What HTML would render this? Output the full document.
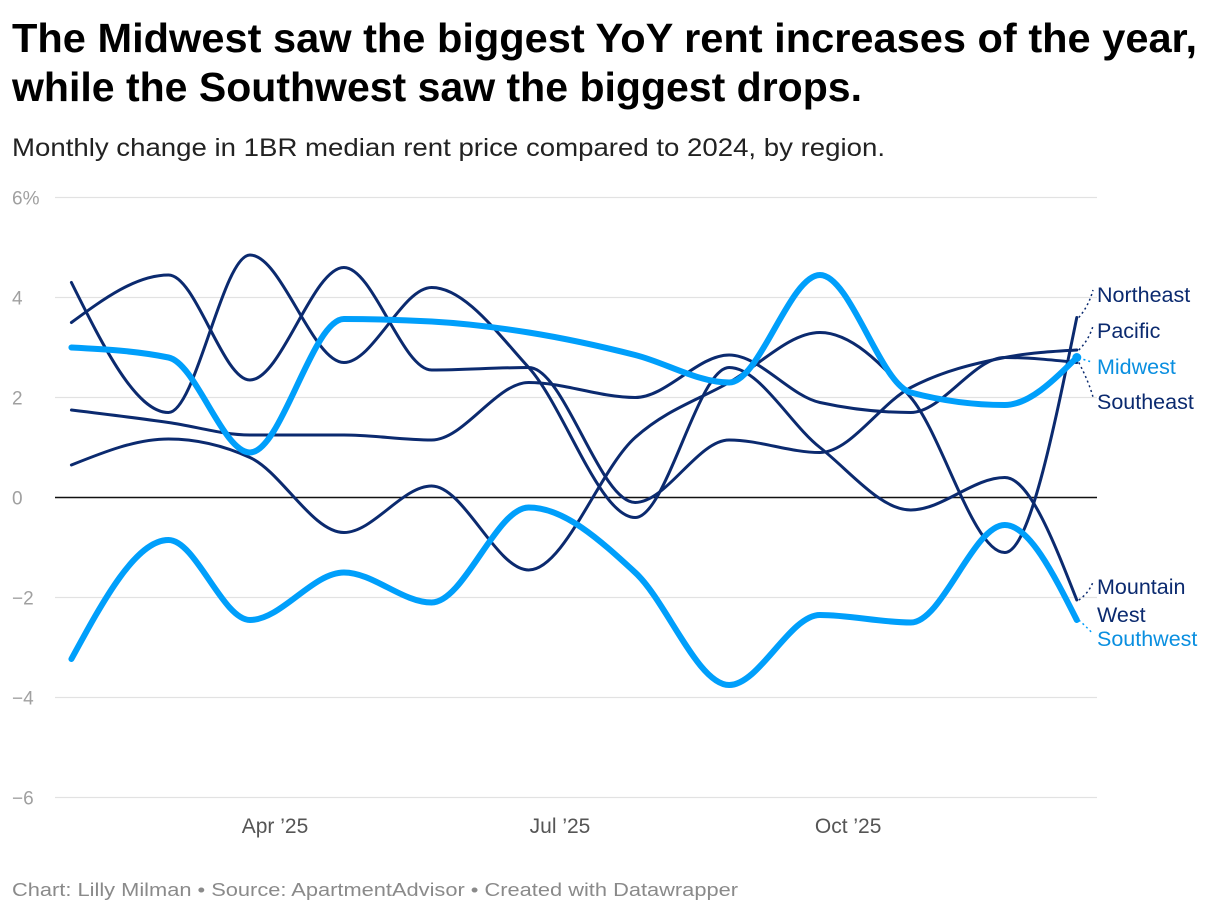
<!DOCTYPE html>
<html><head><meta charset="utf-8"><style>
html,body{margin:0;padding:0;background:#fff;}
svg{display:block;font-family:"Liberation Sans",sans-serif;}
</style></head><body>
<svg id="chart" width="1220" height="914" viewBox="0 0 1220 914" xmlns="http://www.w3.org/2000/svg">
<text x="12" y="52" font-size="41" font-weight="bold" fill="#000" textLength="1185" lengthAdjust="spacingAndGlyphs">The Midwest saw the biggest YoY rent increases of the year,</text>
<text x="12" y="101" font-size="41" font-weight="bold" fill="#000" textLength="850" lengthAdjust="spacingAndGlyphs">while the Southwest saw the biggest drops.</text>
<text x="12" y="156" font-size="25" fill="#222" textLength="873" lengthAdjust="spacingAndGlyphs">Monthly change in 1BR median rent price compared to 2024, by region.</text>
<g id="grid"></g><g id="lines"></g><g id="labels"></g>
<text x="12" y="896" font-size="18" fill="#8a8a8a" textLength="726" lengthAdjust="spacingAndGlyphs">Chart: Lilly Milman • Source: ApartmentAdvisor • Created with Datawrapper</text>
</svg>
<script>
const days = [26,57,83,113,141,172,206,236,265,294,324,347];
const yTicks = [6,4,2,0,-2,-4,-6];
const xTickDays = [91,182,274];
const xTickLabels = ["Apr \u201925","Jul \u201925","Oct \u201925"];
const seriesNames = ["Northeast","Pacific","Midwest","Southeast","Mountain West","Southwest"];
const northeast = [0.65,1.17,0.8,-0.7,0.23,-1.45,1.2,2.3,3.3,2.0,-1.1,3.6];
const pacific = [3.5,4.45,2.35,4.6,2.55,2.6,-0.1,1.15,0.9,2.2,2.8,2.95];
const midwest = [3.0,2.8,0.9,3.57,3.52,3.3,2.85,2.3,4.45,2.1,1.85,2.8];
const southeast = [1.75,1.5,1.25,1.25,1.15,2.3,2.0,2.85,1.9,1.7,2.8,2.7];
const mountainWest = [4.3,1.7,4.85,2.7,4.2,2.6,-0.4,2.6,1.0,-0.25,0.4,-2.05];
const southwest = [-3.23,-0.85,-2.45,-1.5,-2.1,-0.2,-1.5,-3.75,-2.35,-2.5,-0.55,-2.45];

const NS="http://www.w3.org/2000/svg";
const xS = d => 275 + (d-91)*3.132;
const yS = v => 497.5 - v*50;
function mk(tag, attrs, parent){const e=document.createElementNS(NS,tag);for(const k in attrs)e.setAttribute(k,attrs[k]);parent.appendChild(e);return e;}
const grid=document.getElementById('grid'), lines=document.getElementById('lines'), labels=document.getElementById('labels');

yTicks.forEach(t=>{
  const l=mk('line',{x1:55,x2:1097,y1:yS(t),y2:yS(t),stroke:t===0?'#111':'#e2e2e2','stroke-width':t===0?1.6:1.3},grid);
  
  
  const tx=mk('text',{x:12,y:yS(t)+7,'font-size':19,fill:'#a0a0a0'},grid);
  tx.textContent=(t<0?'\u2212'+Math.abs(t):t)+(t===6?'%':'');
  
  
});
xTickDays.forEach((d,i)=>{
  const tx=mk('text',{x:xS(d),y:833,'font-size':21,fill:'#555','text-anchor':'middle'},grid);
  tx.textContent=xTickLabels[i];
  
  
});

function monotone(xs, ys){
  const n=xs.length, d=[], m=[];
  for(let i=0;i<n-1;i++) d.push((ys[i+1]-ys[i])/(xs[i+1]-xs[i]));
  for(let i=0;i<n;i++){
    if(i===0) m.push(d[0]); else if(i===n-1) m.push(d[n-2]);
    else { if(d[i-1]*d[i]<=0) m.push(0); else { const h0=xs[i]-xs[i-1],h1=xs[i+1]-xs[i];
      const p=(d[i-1]*h1+d[i]*h0)/(h0+h1); m.push((Math.sign(d[i-1])+Math.sign(d[i]))*Math.min(Math.abs(d[i-1]),Math.abs(d[i]),0.5*Math.abs(p))); } }
  }
  m[0]=(Math.sign(d[0])===Math.sign((3*d[0]-m[1])/2)? (3*d[0]-m[1])/2 : 0);
  m[n-1]=(Math.sign(d[n-2])===Math.sign((3*d[n-2]-m[n-2])/2)? (3*d[n-2]-m[n-2])/2 : 0);
  let s=`M${xs[0]},${ys[0]}`;
  for(let i=0;i<n-1;i++){const h=(xs[i+1]-xs[i])/3;
    s+=` C${xs[i]+h},${ys[i]+m[i]*h} ${xs[i+1]-h},${ys[i+1]-m[i+1]*h} ${xs[i+1]},${ys[i+1]}`;}
  return s;
}
const DARK='#0b2a6f', LIGHT='#009ffb';
const seriesData=[northeast,pacific,midwest,southeast,mountainWest,southwest];
const seriesColor=[DARK,DARK,LIGHT,DARK,DARK,LIGHT];
const order=[0,1,3,4,2,5];
order.forEach(i=>{
  const xs=days.map(xS), ys=seriesData[i].map(yS);
  const p=mk('path',{d:monotone(xs,ys),fill:'none',stroke:seriesColor[i],'stroke-width':seriesColor[i]===LIGHT?6:3,'stroke-linecap':'round','stroke-linejoin':'round'},lines);
  
  
});
const mwEnd=mk('circle',{cx:xS(days[days.length-1]),cy:yS(midwest[midwest.length-1]),r:4.5,fill:LIGHT},lines);


const labelY=[302,338,374,409,594,646];
seriesNames.forEach((nm,i)=>{
  const ex=xS(days[days.length-1]), ey=yS(seriesData[i][seriesData[i].length-1]);
  const ty = nm==='Mountain West' ? labelY[i]-8 : labelY[i]-8;
  const c=mk('path',{d:`M${ex+2},${ey} Q${ex+12},${(ey+ty)/2} ${1093},${ty-4}`,fill:'none',stroke:seriesColor[i],'stroke-width':1.5,'stroke-dasharray':'2,3'},labels);
  
  
  const t=mk('text',{x:1097,y:labelY[i],'font-size':21.5,fill:seriesColor[i]===LIGHT?'#0a8fe0':DARK},labels);
  if(nm==='Mountain West'){ t.textContent='Mountain'; const t2=mk('text',{x:1097,y:labelY[i]+28,'font-size':21.5,fill:DARK},labels); t2.textContent='West';
    
     }
  else t.textContent=nm;
  
  
});
</script>
</body></html>
